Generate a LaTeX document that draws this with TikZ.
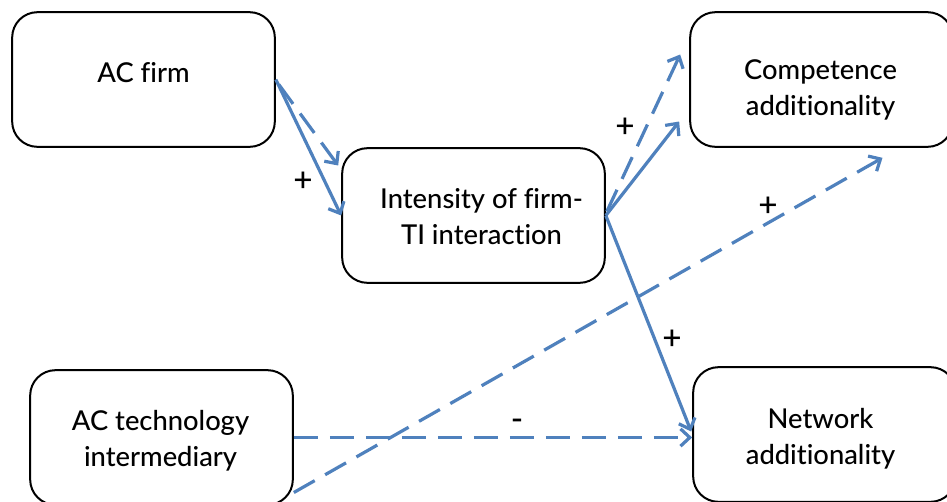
\documentclass[tikz,border=0pt]{standalone}
\usepackage{fontspec}
\setmainfont{Lato Medium}[Ligatures=NoCommon]
\usetikzlibrary{arrows.meta,calc}
\definecolor{arrowblue}{HTML}{4F81BD}
\tikzset{
  box/.style={draw=black, line width=1.5pt, rounded corners=19pt, minimum width=197pt, minimum height=101pt, inner sep=0pt},
  boxtext/.style={align=center, font=\fontsize{20.5}{27}\selectfont, inner sep=0pt},
  conn/.style={draw=arrowblue, line width=2.4pt, -{Straight Barb[length=7pt,width=13pt]}},
  dconn/.style={conn, dash pattern=on 18pt off 9pt},
  sign/.style={font=\fontsize{25}{25}\selectfont, inner sep=0pt}
}
\begin{document}
\begin{tikzpicture}[x=0.75pt,y=-0.75pt]
\useasboundingbox (0,0) rectangle (947,501);
\clip (0,0) rectangle (947,501);
\fill[white] (0,0) rectangle (947,501);
% boxes
\node[box] (firm) at (143.5,79.5) {};
\node[box] (inten) at (473.5,215.5) {};
\node[box] (comp) at (821.5,79.5) {};
\node[box] (tech) at (161.5,437.5) {};
\node[box] (net) at (824.5,434.5) {};
% texts
\node[boxtext] (firmt) at ([shift={(0,-7)}]firm.center) {AC firm};
\node[boxtext] (intent) at ([shift={(8,1)}]inten.center) {Intensity of firm-\\TI interaction};
\node[boxtext] (compt) at ([shift={(-1,10)}]comp.center) {Competence\\additionality};
\node[boxtext] (techt) at ([shift={(-1,3)}]tech.center) {AC technology\\intermediary};
\node[boxtext] (nett) at ([shift={(-4,4)}]net.center) {Network\\additionality};
% connectors
\draw[conn] (firm.east) -- (inten.west);
\draw[dconn] ([shift={(3,5)}]firm.east) -- ([shift={(-3,-50)}]inten.west);
\draw[conn] (inten.east) -- ([shift={(-10,42)}]comp.west);
\draw[dconn] ([shift={(1,-4)}]inten.east) -- ([shift={(-9,-25)}]comp.west);
\draw[conn] (inten.east) -- ([shift={(-1,-3)}]net.west);
\draw[dconn] (tech.east) -- (tech.east -| net.west);
\draw[dconn] ([shift={(0,55)}]tech.east) -- ([shift={(61,10)}]comp.south);
% signs
\node[sign] (s1) at (303,182) {+};
\node[sign] (s2) at (625,128) {+};
\node[sign] (s3) at (768,207) {+};
\node[sign] (s4) at (672,340) {+};
\node[sign] (s5) at (517,425) {-};
\end{tikzpicture}
\end{document}
